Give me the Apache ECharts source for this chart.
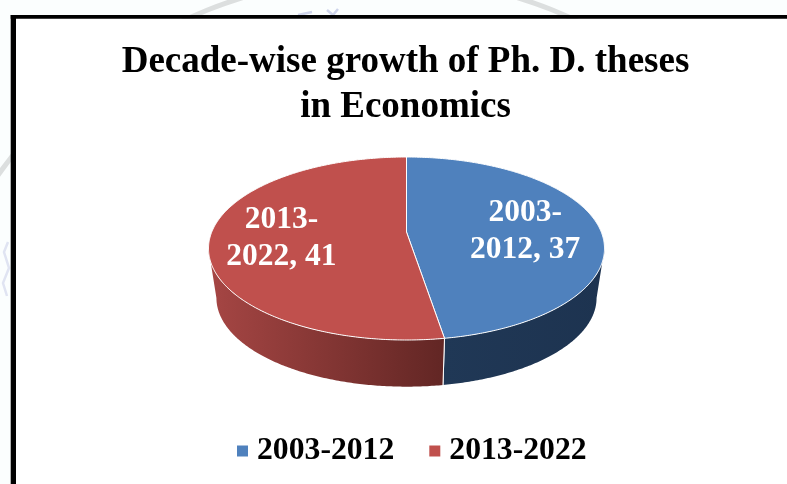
<!DOCTYPE html>
<html>
<head>
<meta charset="utf-8">
<style>html,body{margin:0;padding:0;background:#fbfefe}#chart{width:787px;height:484px}</style>
<script src="https://cdn.jsdelivr.net/npm/echarts@6/dist/echarts.min.js"></script>
</head>
<body>
<div id="chart"></div>
<script>
const periods = ['2003-2012', '2013-2022'];
const theses = [37, 41];
const labelLines = [['2003-', '2012, 37'], ['2013-', '2022, 41']];
const faceColors = ['#4F81BD', '#C0504D'];
const wallStops = [['#1D3350', '#203856'], ['#A64644', '#622624']];

const total = theses.reduce((a, b) => a + b, 0);
const SERIF = '"Liberation Serif", "Times New Roman", serif';

// Tilted disc: a circle under a projective map, so the hub sits above the ellipse centre.
const HUB = 0.18;
const BASE_SCALE_X = 0.96, BASE_SCALE_Y = 0.97, DEPTH = 0.54;
function project(theta) {
  const s = Math.sin(theta), c = Math.cos(theta);
  const d = 1 + HUB * c;
  return [s * Math.sqrt(1 - HUB * HUB) / d, (c + HUB) / d];
}
const toBase = p => [p[0] * BASE_SCALE_X, p[1] * BASE_SCALE_Y - DEPTH];
const arcRange = (a, b) => {
  const n = Math.max(2, Math.ceil(Math.abs(b - a) / 0.01));
  const out = [];
  for (let i = 0; i <= n; i++) out.push(a + (b - a) * i / n);
  return out;
};

function sliceRenderer(index) {
  return function (params, api) {
    const before = theses.slice(0, index).reduce((a, b) => a + b, 0);
    const a0 = before / total * Math.PI * 2;
    const a1 = a0 + api.value(1) / total * Math.PI * 2;
    const toPx = p => api.coord(p);

    // The wall shows only on the near half of the rim.
    const rimLo = Math.acos(-HUB), rimHi = Math.PI * 2 - rimLo;
    const w0 = Math.max(a0, rimLo), w1 = Math.min(a1, rimHi);
    const rim = arcRange(w0, w1).map(project);
    const wallPts = rim.concat(rim.slice().reverse().map(toBase)).map(toPx);

    const facePts = [[0, HUB]].concat(arcRange(a0, a1).map(project)).map(toPx);
    const mid = project((a0 + a1) / 2);
    const anchor = toPx([mid[0] * (index === 0 ? 0.62 : 0.635), mid[1] * 0.9 + (index === 0 ? -0.04 : 0.02)]);
    const splitTop = project(theses[0] / total * Math.PI * 2);

    const children = [
      { type: 'polygon', shape: { points: wallPts },
        style: { fill: new echarts.graphic.LinearGradient(0, 0, 1, 0, [
          { offset: 0, color: wallStops[index][index === 0 ? 1 : 0] },
          { offset: 1, color: wallStops[index][index === 0 ? 0 : 1] }]) } },
      { type: 'polygon', shape: { points: facePts },
        style: { fill: faceColors[index], stroke: '#fff', lineWidth: 1 } },
      { type: 'line',
        shape: { x1: toPx(splitTop)[0], y1: toPx(splitTop)[1],
                 x2: toPx(toBase(splitTop))[0], y2: toPx(toBase(splitTop))[1] },
        style: { stroke: '#fff', lineWidth: 1 } },
      { type: 'text', x: anchor[0], y: anchor[1],
        style: { text: labelLines[index].join('\n'), fill: '#fff',
                 font: 'bold 31.5px ' + SERIF, lineHeight: 37,
                 align: 'center', verticalAlign: 'middle' } }
    ];
    return { type: 'group', children };
  };
}

const chart = echarts.init(document.getElementById('chart'), null, { renderer: 'canvas' });
chart.setOption({
  animation: false,
  backgroundColor: 'transparent',
  title: {
    text: 'Decade-wise growth of Ph. D. theses\nin Economics',
    left: 400.5, top: 35, textAlign: 'center',
    textStyle: { fontFamily: SERIF, fontWeight: 'bold', fontSize: 37, lineHeight: 45, color: '#000' }
  },
  legend: {
    data: periods, left: 237, top: 435, padding: 0, icon: 'rect',
    itemWidth: 11, itemHeight: 11, itemGap: 35, selectedMode: false,
    textStyle: { fontFamily: SERIF, fontWeight: 'bold', fontSize: 31.7, color: '#000', padding: [0, 0, 0, 4] }
  },
  grid: { left: 208.5, right: 787 - 604.5, top: 157, bottom: 484 - 340, containLabel: false },
  xAxis: { type: 'value', min: -1, max: 1, show: false },
  yAxis: { type: 'value', min: -1, max: 1, show: false },
  graphic: [
    // Faint letterhead crest behind the frame
    { type: 'circle', z: -4, shape: { cx: 380, cy: 444, r: 467 },
      style: { fill: 'none', stroke: '#dcdfdf', lineWidth: 5 } },
    { type: 'polyline', z: -4, shape: { points: [[298, 15], [312, 12]] },
      style: { stroke: '#cdd3ea', lineWidth: 2.5, fill: 'none' } },
    { type: 'polyline', z: -4, shape: { points: [[327, 10], [333, 15], [338, 9]] },
      style: { stroke: '#cdd3ea', lineWidth: 2.5, fill: 'none' } },
    { type: 'polyline', z: -4, shape: { points: [[8, 242], [4, 252], [9, 268], [3, 283], [7, 296]] },
      style: { stroke: '#e0e4f2', lineWidth: 2.5, fill: 'none' } },
    // Frame: white panel, heavier left rule, lighter top rule, open towards right and bottom
    { type: 'rect', z: -3, shape: { x: 16, y: 18.7, width: 771, height: 466 }, style: { fill: '#fff' } },
    { type: 'rect', z: -2, shape: { x: 10.7, y: 15, width: 5.3, height: 469 }, style: { fill: '#000' } },
    { type: 'rect', z: -2, shape: { x: 10.7, y: 15, width: 777, height: 3.8 }, style: { fill: '#000' } }
  ],
  series: periods.map((name, i) => ({
    type: 'custom', name, coordinateSystem: 'cartesian2d',
    renderItem: sliceRenderer(i),
    itemStyle: { color: faceColors[i] },
    encode: { x: 0, y: 2 },
    data: [[0, theses[i], 0]],
    silent: true
  }))
});
</script>
</body>
</html>
